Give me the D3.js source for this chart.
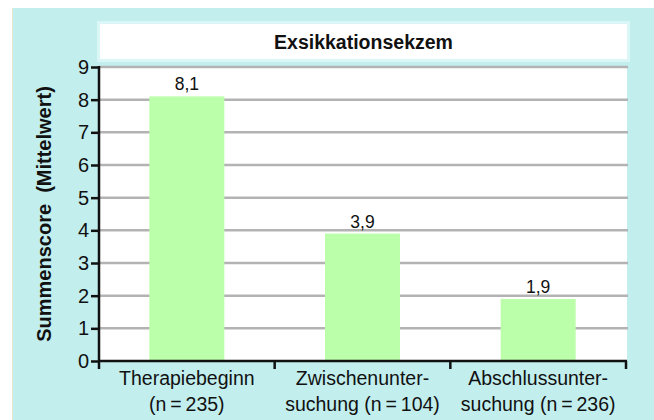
<!DOCTYPE html>
<html><head><meta charset="utf-8">
<script src="https://cdn.jsdelivr.net/npm/d3@7/dist/d3.min.js"></script>
<style>
html,body{margin:0;padding:0;background:#fff;}
svg{display:block;font-family:"Liberation Sans",Arial,sans-serif;}
</style></head>
<body>
<script>
const title = "Exsikkationsekzem";
const yLabel = "Summenscore\u00a0 (Mittelwert)";
const categories = ["Therapiebeginn", "Zwischenuntersuchung", "Abschlussuntersuchung"];
const categoryLines = [["Therapiebeginn", "(n\u2009=\u2009235)"], ["Zwischenunter-", "suchung (n\u2009=\u2009104)"], ["Abschlussunter-", "suchung (n\u2009=\u2009236)"]];
const values = [8.1, 3.9, 1.9];
const valueLabels = ["8,1", "3,9", "1,9"];
const yTicks = [0,1,2,3,4,5,6,7,8,9];

(function () {
const W = 654, H = 420;
const svg = d3.select("body").append("svg").attr("width", W).attr("height", H);

// panel
svg.append("rect").attr("x", 12).attr("y", 8).attr("width", W - 12).attr("height", H - 8).attr("fill", "#c2eeee");
svg.append("line").attr("x1", 12.5).attr("x2", 12.5).attr("y1", 8).attr("y2", H).attr("stroke", "#e8e6d0").attr("stroke-width", 1);

// title box
svg.append("rect").attr("x", 98.5).attr("y", 22.5).attr("width", 530).attr("height", 38)
  .attr("fill", "#fff").attr("stroke", "#daf6f6").attr("stroke-width", 3);
svg.append("text").attr("x", 363.5).attr("y", 48.5).attr("text-anchor", "middle")
  .attr("font-weight", "bold").attr("font-size", 19.5).attr("fill", "#111").text(title);

const pl = 99, pr = 627, pt = 67, pb = 361;
const x = d3.scaleBand().domain(categories).range([pl, 626]).padding(0);
const y = d3.scaleLinear().domain([0, 9]).range([pb, pt]);

// plot bg
svg.append("rect").attr("x", pl).attr("y", pt).attr("width", pr - pl).attr("height", pb - pt).attr("fill", "#fff");

// grid
svg.append("g").selectAll("line").data(yTicks.filter(d => d > 0)).join("line")
  .attr("x1", pl).attr("x2", pr + 1).attr("y1", d => y(d)).attr("y2", d => y(d))
  .attr("stroke", "#b3b3b3").attr("stroke-width", 2.5);

// bars
const bw = x.bandwidth() * 0.427;
svg.append("g").selectAll("rect").data(values).join("rect")
  .attr("x", (d, i) => x(categories[i]) + (x.bandwidth() - bw) / 2)
  .attr("width", bw)
  .attr("y", d => y(d)).attr("height", d => y(0) - y(d))
  .attr("fill", "#bbffaa");

// value labels
svg.append("g").selectAll("text").data(values).join("text")
  .attr("x", (d, i) => x(categories[i]) + x.bandwidth() / 2)
  .attr("y", d => y(d) - 6)
  .attr("text-anchor", "middle").attr("font-size", 17.5).attr("fill", "#111")
  .text((d, i) => valueLabels[i]);

// y axis
const yAxis = d3.axisLeft(y).tickValues(yTicks).tickSize(8).tickPadding(2).tickFormat(d => d);
const gy = svg.append("g").attr("transform", `translate(${pl},0)`).call(yAxis);
gy.select(".domain").attr("stroke", "#111").attr("stroke-width", 2.5).attr("d", `M0,${pt - 1}V${pb + 1}`);
gy.selectAll(".tick line").attr("stroke", "#111").attr("stroke-width", 2.5);
gy.selectAll(".tick text").attr("font-size", 20).attr("fill", "#111").attr("font-family", "Liberation Sans, Arial, sans-serif");

// x axis
svg.append("line").attr("x1", pl - 1).attr("x2", 627).attr("y1", pb).attr("y2", pb)
  .attr("stroke", "#111").attr("stroke-width", 2.5);
const boundaries = categories.map(c => x(c)).concat([x(categories[categories.length - 1]) + x.bandwidth()]);
svg.append("g").selectAll("line").data(boundaries).join("line")
  .attr("x1", d => d).attr("x2", d => d).attr("y1", pb).attr("y2", pb + 8)
  .attr("stroke", "#111").attr("stroke-width", 2.5);

const gl = svg.append("g").selectAll("text").data(categoryLines).join("text")
  .attr("text-anchor", "middle").attr("font-size", 19.5).attr("fill", "#111")
  .attr("transform", (d, i) => `translate(${x(categories[i]) + x.bandwidth() / 2},0)`);
gl.selectAll("tspan").data(d => d).join("tspan")
  .attr("x", 0).attr("y", (d, j) => 385 + j * 25.7).text(d => d);

// y label
svg.append("text").attr("transform", "translate(51,214) rotate(-90)").attr("text-anchor", "middle")
  .attr("font-weight", "bold").attr("font-size", 20).attr("fill", "#111").text(yLabel);
})();
</script>
</body></html>
